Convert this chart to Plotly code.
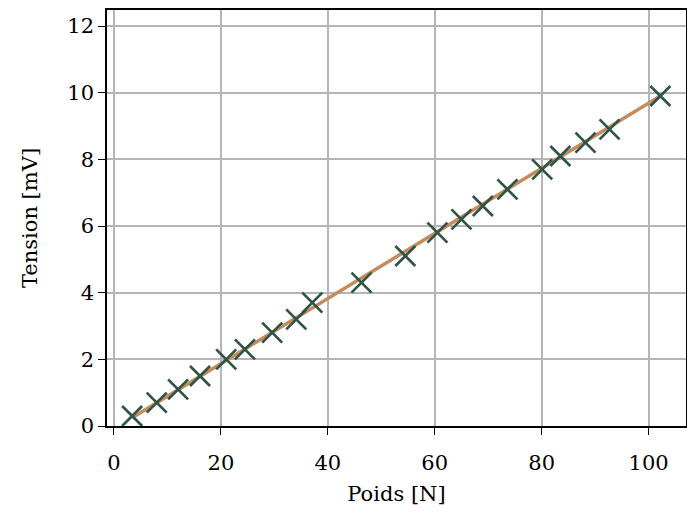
import plotly.graph_objects as go

# Data
poids = [3.4, 8.0, 12.0, 16.1, 21.0, 24.5, 29.6, 34.1, 37.1, 46.3,
         54.5, 60.5, 65.0, 69.0, 73.6, 80.1, 83.5, 88.2, 92.7, 102.2]
tension = [0.3, 0.7, 1.1, 1.5, 2.0, 2.3, 2.8, 3.2, 3.7, 4.3,
           5.1, 5.8, 6.2, 6.6, 7.1, 7.7, 8.1, 8.5, 8.9, 9.9]
fit_x = [3.4, 102.2]
fit_y = [0.25, 9.9]
x_ticks = [0, 20, 40, 60, 80, 100]
y_ticks = [0, 2, 4, 6, 8, 10, 12]

LINE_COLOR = "#C48B5F"
MARK_COLOR = "#2F5446"
FONT = "DejaVu Serif"
FS = 21

fig = go.Figure()
fig.add_trace(go.Scatter(x=fit_x, y=fit_y, mode="lines",
                         line=dict(color=LINE_COLOR, width=3.5),
                         showlegend=False, hoverinfo="skip"))
fig.add_trace(go.Scatter(x=poids, y=tension, mode="markers",
                         marker=dict(symbol="x-thin", size=20,
                                     line=dict(color=MARK_COLOR, width=2.7),
                                     color=MARK_COLOR),
                         showlegend=False))

axis_common = dict(
    showline=True, linecolor="black", linewidth=1.5, mirror=True,
    ticks="outside", ticklen=7, tickwidth=1.3, tickcolor="black",
    showgrid=True, gridcolor="#b5b5b5", gridwidth=1.6,
    zeroline=False,
    tickfont=dict(family=FONT, size=FS, color="black"),
)

fig.update_xaxes(range=[-1.3, 107.0], tickvals=x_ticks, ticklabelstandoff=10,
                 title=dict(text="Poids [N]", font=dict(family=FONT, size=FS, color="black"),
                            standoff=12),
                 **axis_common)
fig.update_yaxes(range=[0, 12.48], tickvals=y_ticks,
                 title=dict(text="Tension [mV]", font=dict(family=FONT, size=FS, color="black"),
                            standoff=24),
                 **axis_common)

# the page adds an 8px body margin, so margins are offset accordingly
fig.update_layout(
    width=695, height=514,
    margin=dict(l=99, r=17, t=0, b=96),
    plot_bgcolor="white", paper_bgcolor="white",
    font=dict(family=FONT, size=FS, color="black"),
)

fig.write_html("out.html")
